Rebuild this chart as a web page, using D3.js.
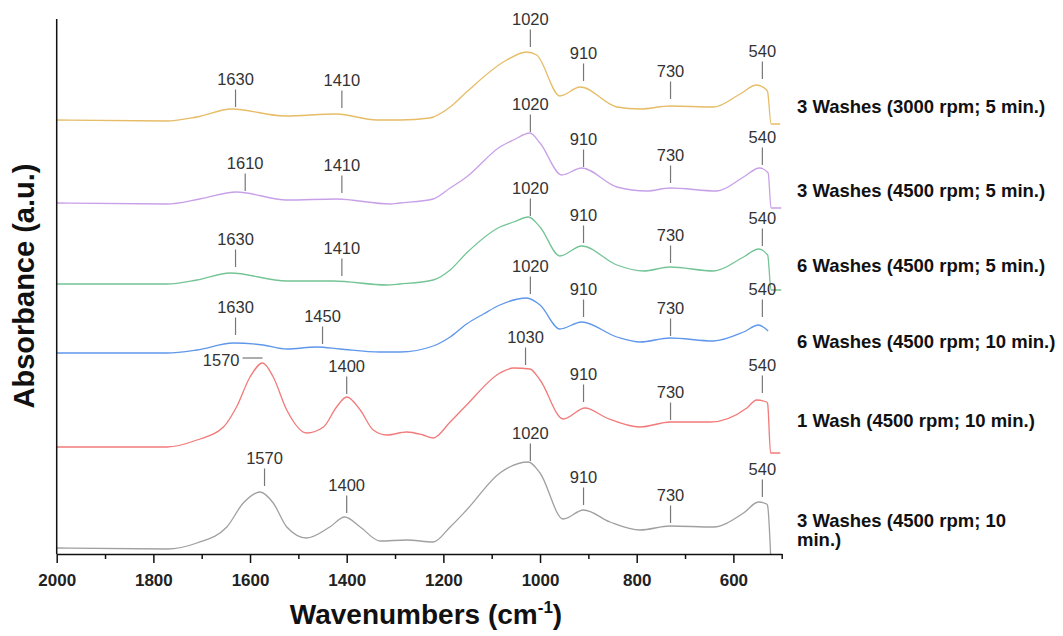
<!DOCTYPE html>
<html>
<head>
<script src="https://d3js.org/d3.v7.min.js"></script>
<style>
  body{ margin:0; background:#fff; font-family:Arial, "Liberation Sans", sans-serif; }
</style>
</head>
<body>
<div id="chart"></div>
<script>
// spectra, [wavenumber cm-1, absorbance a.u.] (offset stacked)
var s3w3000 = [[2000,4.34],[1772,4.33],[1710,4.37],[1638,4.45],[1528,4.38],[1421,4.40],[1338,4.34],[1290,4.34],[1228,4.36],[1186,4.47],[1152,4.62],[1069,4.94],[1028,5.02],[1007,4.99],[959,4.58],[917,4.67],[841,4.47],[793,4.45],[731,4.48],[641,4.47],[586,4.60],[552,4.69],[531,4.64],[529,4.62],[522,4.30],[503,4.30]]
var s3w4500 = [[2000,3.51],[1772,3.50],[1704,3.55],[1628,3.62],[1524,3.54],[1421,3.55],[1310,3.50],[1290,3.51],[1221,3.55],[1186,3.66],[1152,3.77],[1083,4.07],[1055,4.14],[1021,4.21],[1000,4.11],[955,3.79],[914,3.86],[841,3.67],[779,3.63],[731,3.66],[634,3.63],[579,3.77],[546,3.86],[528,3.81],[522,3.46],[501,3.46]]
var s6w5 = [[2000,2.70],[1772,2.70],[1710,2.74],[1641,2.81],[1524,2.73],[1428,2.73],[1317,2.69],[1290,2.70],[1221,2.74],[1186,2.84],[1152,3.01],[1083,3.27],[1055,3.32],[1024,3.37],[1000,3.27],[959,2.98],[914,3.08],[841,2.89],[786,2.83],[731,2.87],[641,2.83],[579,2.97],[548,3.05],[529,2.99],[522,2.64],[501,2.64]]
var s6w10 = [[2000,2.01],[1772,2.01],[1710,2.04],[1635,2.11],[1573,2.09],[1524,2.05],[1462,2.07],[1414,2.05],[1331,2.02],[1290,2.02],[1221,2.08],[1186,2.17],[1152,2.30],[1117,2.40],[1083,2.49],[1028,2.56],[1000,2.49],[959,2.25],[914,2.32],[841,2.17],[793,2.12],[731,2.16],[641,2.13],[579,2.22],[548,2.29],[528,2.23]]
var s1w10 = [[2000,1.07],[1772,1.07],[1710,1.14],[1655,1.27],[1628,1.47],[1600,1.77],[1574,1.91],[1552,1.77],[1524,1.44],[1483,1.21],[1448,1.27],[1421,1.47],[1400,1.57],[1372,1.44],[1345,1.24],[1317,1.19],[1276,1.22],[1242,1.19],[1221,1.16],[1186,1.32],[1152,1.49],[1083,1.81],[1055,1.86],[1021,1.85],[1000,1.74],[952,1.35],[907,1.46],[862,1.36],[793,1.27],[731,1.32],[648,1.32],[572,1.46],[552,1.54],[531,1.52],[529,1.50],[523,1.01],[503,1.01]]
var s3w10 = [[2000,0.06],[1772,0.05],[1710,0.11],[1648,0.27],[1614,0.51],[1579,0.62],[1552,0.51],[1524,0.27],[1483,0.16],[1435,0.27],[1404,0.37],[1372,0.27],[1331,0.13],[1276,0.14],[1221,0.12],[1186,0.27],[1152,0.44],[1083,0.81],[1024,0.92],[1000,0.81],[952,0.35],[910,0.44],[855,0.32],[793,0.24],[731,0.28],[641,0.27],[579,0.41],[548,0.52],[531,0.50],[529,0.48],[523,0.00]]

// peak marks: [label wavenumber, absorbance at the foot of the tick]
var pk3w3000 = [[1630,4.47],[1410,4.46],[1020,5.07],[910,4.73],[730,4.55],[540,4.75]]
var pk3w4500 = [[1610,3.63],[1410,3.61],[1020,4.22],[910,3.87],[730,3.71],[540,3.89]]
var pk6w5 = [[1630,2.87],[1410,2.78],[1020,3.38],[910,3.11],[730,2.91],[540,3.08]]
var pk6w10 = [[1630,2.19],[1450,2.10],[1020,2.60],[910,2.37],[730,2.18],[540,2.37]]
var pk1w10 = [[1570,1.96,"left"],[1400,1.60],[1030,1.89],[910,1.52],[730,1.34],[540,1.61]]
var pk3w10 = [[1570,0.68],[1400,0.41],[1020,0.93],[910,0.49],[730,0.31],[540,0.57]]

var names = [["3 Washes (3000 rpm; 5 min.)"],["3 Washes (4500 rpm; 5 min.)"],["6 Washes (4500 rpm; 5 min.)"],["6 Washes (4500 rpm; 10 min.)"],["1 Wash (4500 rpm; 10 min.)"],["3 Washes (4500 rpm; 10","min.)"]]
var majorTicks = [2000,1800,1600,1400,1200,1000,800,600]
var minorTicks = [1900,1700,1500,1300,1100,900,700,500]

var spectra = [s3w3000,s3w4500,s6w5,s6w10,s1w10,s3w10]
var peaks = [pk3w3000,pk3w4500,pk6w5,pk6w10,pk1w10,pk3w10]
var colors = ["#e6bc66","#c8a0e8","#74c496","#5f97ea","#f27a7a","#a0a0a0"]
var labelY = [113,197,272,348,427,527]

var W = 1063, H = 636
var x0 = 56.7, x1 = 781.7, yTop = 19, yBot = 554
var xScale = d3.scaleLinear().domain([2000,500]).range([x0,x1])
var yScale = d3.scaleLinear().domain([0,5.35]).range([yBot,yTop])

var svg = d3.select("#chart").append("svg")
    .attr("width",W).attr("height",H)
    .style("font-family","Arial, 'Liberation Sans', sans-serif")

var line = d3.line()
    .x(function(d){return xScale(d[0])})
    .y(function(d){return yScale(d[1])})
    .curve(d3.curveMonotoneX)

spectra.forEach(function(s,i){
    svg.append("path")
        .attr("d",line(s))
        .attr("fill","none")
        .attr("stroke",colors[i])
        .attr("stroke-width",1.3)
})

// peak labels
var tickLen = 17.5
peaks.forEach(function(p){
    p.forEach(function(d){
        var px = xScale(d[0]), py = yScale(d[1])
        if(d[2]=="left"){
            svg.append("line").attr("x1",px-22).attr("x2",px-2).attr("y1",py).attr("y2",py)
                .attr("stroke","#777").attr("stroke-width",1.2)
            svg.append("text").text(d[0]).attr("x",px-25).attr("y",py+8)
                .attr("text-anchor","end").attr("font-size",16.5).attr("fill","#333")
        } else {
            svg.append("line").attr("x1",px).attr("x2",px).attr("y1",py).attr("y2",py-tickLen)
                .attr("stroke","#777").attr("stroke-width",1.2)
            svg.append("text").text(d[0]).attr("x",px).attr("y",py-tickLen-5)
                .attr("text-anchor","middle").attr("font-size",16.5).attr("fill","#333")
        }
    })
})

// axes
var xAxis = svg.append("g").attr("transform","translate(0,"+yBot+")")
    .call(d3.axisBottom(xScale).tickValues(majorTicks).tickSize(9).tickSizeOuter(0).tickPadding(11).tickFormat(d3.format("d")))
xAxis.selectAll("text").attr("font-size",17).attr("font-weight","bold").attr("fill","#222").attr("font-family",null)
var xMinor = svg.append("g").attr("transform","translate(0,"+yBot+")")
    .call(d3.axisBottom(xScale).tickValues(minorTicks).tickSize(5).tickSizeOuter(0).tickFormat(""))
xMinor.select(".domain").remove()
svg.selectAll(".tick line").attr("stroke","#111").attr("stroke-width",1.5)
xAxis.select(".domain").attr("stroke","#111").attr("stroke-width",1.5)

svg.append("line").attr("x1",x0).attr("x2",x0).attr("y1",yTop).attr("y2",yBot)
    .attr("stroke","#111").attr("stroke-width",1.5)

// axis titles
var xt = svg.append("text").attr("x",426).attr("y",624).attr("text-anchor","middle")
    .attr("font-size",28).attr("font-weight","bold").attr("fill","#111")
xt.append("tspan").text("Wavenumbers (cm")
xt.append("tspan").text("-1").attr("font-size",17).attr("dy",-11)
xt.append("tspan").text(")").attr("dy",11)

svg.append("text").attr("transform","translate(33.5,286) rotate(-90)")
    .attr("text-anchor","middle").attr("font-size",29).attr("font-weight","bold").attr("fill","#111")
    .text("Absorbance (a.u.)")

// series labels
names.forEach(function(n,i){
    n.forEach(function(t,j){
        svg.append("text").text(t).attr("x",797).attr("y",labelY[i]+j*19)
            .attr("font-size",18.5).attr("font-weight","bold").attr("fill","#111")
    })
})
</script>
</body>
</html>
